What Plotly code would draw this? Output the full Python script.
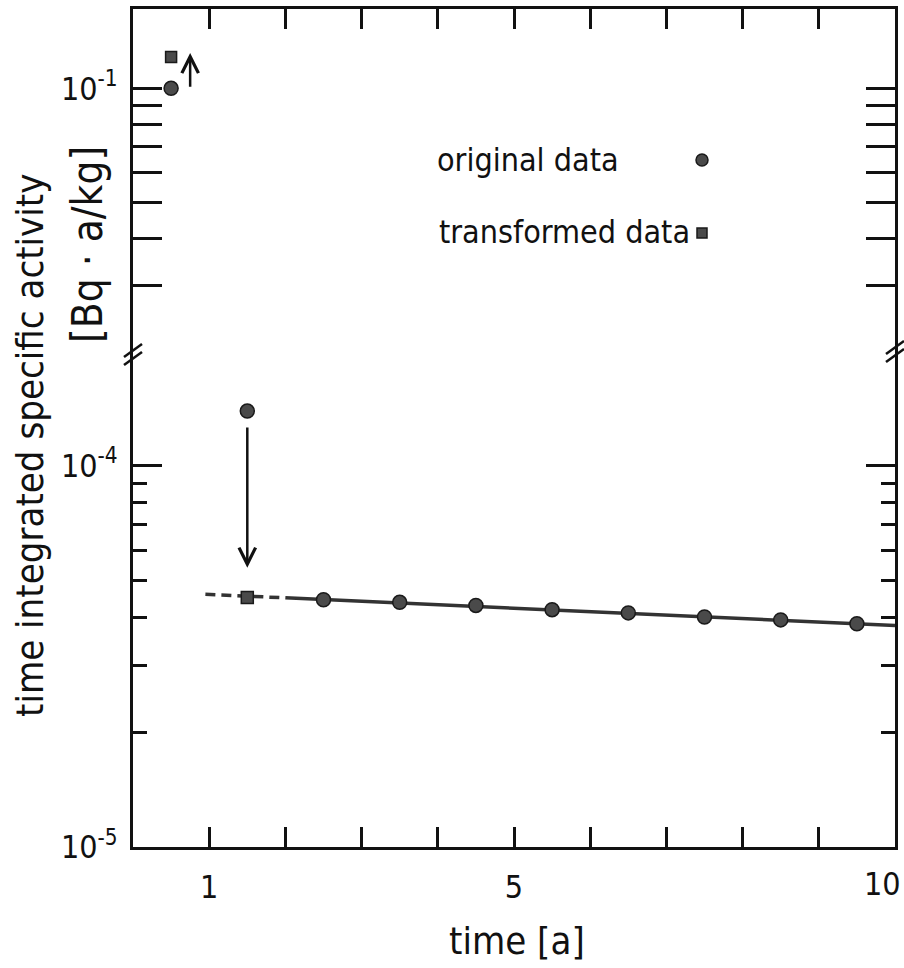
import math
import plotly.graph_objects as go

# ---------------- data ----------------
orig_x = [0.5, 1.5, 2.5, 3.5, 4.5, 5.5, 6.5, 7.5, 8.5, 9.5]
orig_y = [1.0e-1, 1.39e-4, 4.45e-5, 4.38e-5, 4.30e-5, 4.19e-5, 4.11e-5, 4.01e-5, 3.94e-5, 3.85e-5]
trans_x = [0.5, 1.5]
trans_y = [1.21e-1, 4.51e-5]
fit_dash_x = [0.95, 2.0]
fit_dash_y = [4.60e-5, 4.50e-5]
fit_solid_x = [2.0, 10.0]
fit_solid_y = [4.50e-5, 3.81e-5]
arrow_x = [0.75, 1.5]
arrow_from = [1.0e-1, 1.27e-4]
arrow_to = [1.24e-1, 5.4e-5]

x_major = [1, 5]
x_major_text = ["1", "5"]
x_end_label = "10"
x_minor = [2, 3, 4, 6, 7, 8, 9]
low_major = [1e-5, 1e-4]
low_major_text = ["10<sup>-5</sup>", "10<sup>-4</sup>"]
low_minor = [2e-5, 3e-5, 4e-5, 5e-5, 6e-5, 7e-5, 8e-5, 9e-5]
up_major = [1e-1]
up_major_text = ["10<sup>-1</sup>"]
up_minor = [0.03, 0.04, 0.05, 0.06, 0.07, 0.08, 0.09]
break_value = 0.01  # values above belong to the upper panel

# ---------------- layout geometry ----------------
W, H = 904, 968
L, R, T, B = 133, 895, 9, 847
PW, PH = R - L, B - T
BREAK_PX = 355
split = (B - BREAK_PX) / PH

def px(xp):
    return (xp - L) / PW

def py(yp):
    return (B - yp) / PH

FONT = "Liberation Sans Narrow, DejaVu Sans Condensed, Arial Narrow, sans-serif"
INK = "#111111"
MARK = "#4a4a4a"

fig = go.Figure()

lo_ox = [x for x, y in zip(orig_x, orig_y) if y < break_value]
lo_oy = [y for y in orig_y if y < break_value]
up_ox = [x for x, y in zip(orig_x, orig_y) if y >= break_value]
up_oy = [y for y in orig_y if y >= break_value]
lo_tx = [x for x, y in zip(trans_x, trans_y) if y < break_value]
lo_ty = [y for y in trans_y if y < break_value]
up_tx = [x for x, y in zip(trans_x, trans_y) if y >= break_value]
up_ty = [y for y in trans_y if y >= break_value]

fig.add_trace(go.Scatter(x=fit_dash_x, y=fit_dash_y, mode="lines",
                         line=dict(color="#333333", width=3.5, dash="10px,6px"),
                         xaxis="x", yaxis="y", showlegend=False))
fig.add_trace(go.Scatter(x=fit_solid_x, y=fit_solid_y, mode="lines",
                         line=dict(color="#333333", width=3.5),
                         xaxis="x", yaxis="y", showlegend=False))

circ = dict(symbol="circle", size=14, color=MARK, line=dict(color="#1a1a1a", width=1.5))
sq = dict(symbol="square", size=12, color=MARK, line=dict(color="#1a1a1a", width=1.5))

fig.add_trace(go.Scatter(x=lo_ox, y=lo_oy, mode="markers", marker=circ,
                         xaxis="x", yaxis="y", showlegend=False))
fig.add_trace(go.Scatter(x=lo_tx, y=lo_ty, mode="markers", marker=sq,
                         xaxis="x", yaxis="y", showlegend=False))
fig.add_trace(go.Scatter(x=up_ox, y=up_oy, mode="markers", marker=circ,
                         xaxis="x", yaxis="y2", showlegend=False))
fig.add_trace(go.Scatter(x=up_tx, y=up_ty, mode="markers", marker=dict(sq, size=11),
                         xaxis="x", yaxis="y2", showlegend=False))
# dummy trace so the top x axis is drawn
fig.add_trace(go.Scatter(x=[None], y=[None], xaxis="x2", yaxis="y2",
                         showlegend=False, hoverinfo="skip"))

axis_common = dict(showgrid=False, zeroline=False, showline=True, linecolor=INK,
                   linewidth=3, ticks="inside", tickcolor=INK, automargin=False,
                   tickfont=dict(family=FONT, size=32, color=INK))

fig.update_layout(
    width=W, height=H,
    margin=dict(l=L, r=W - R, t=T, b=H - B),
    paper_bgcolor="white", plot_bgcolor="rgba(0,0,0,0)",
    xaxis=dict(axis_common, domain=[0, 1], range=[0, 10], anchor="y",
               tickvals=x_major, ticktext=x_major_text, ticklen=20, tickwidth=2.5,
               ticklabelstandoff=10,
               minor=dict(tickvals=x_minor, ticks="inside", ticklen=20,
                          tickwidth=2.5, tickcolor=INK)),
    xaxis2=dict(axis_common, overlaying="x", anchor="y2", side="top", range=[0, 10],
                tickvals=x_major + x_minor, ticklen=20, tickwidth=2.5,
                showticklabels=False),
    yaxis=dict(axis_common, domain=[0, split], type="log", anchor="x",
               range=[-5, math.log10(1.95e-4)], mirror="allticks",
               tickvals=low_major, ticktext=low_major_text, ticklen=29, tickwidth=2.5,
               ticklabelstandoff=6,
               minor=dict(tickvals=low_minor, ticks="inside", ticklen=14,
                          tickwidth=2.5, tickcolor=INK)),
    yaxis2=dict(axis_common, domain=[split, 1], type="log", anchor="x",
                range=[math.log10(0.01967), math.log10(0.1622)], mirror="allticks",
                tickvals=up_major, ticktext=up_major_text, ticklen=29, tickwidth=2.5,
                ticklabelstandoff=6,
                minor=dict(tickvals=up_minor, ticks="inside", ticklen=14,
                           tickwidth=2.5, tickcolor=INK)),
)

# arrows
for ax_, a0, a1 in zip(arrow_x, arrow_from, arrow_to):
    yref = "y2" if a0 >= break_value else "y"
    fig.add_annotation(x=ax_, y=math.log10(a1), ax=ax_, ay=math.log10(a0),
                       xref="x", yref=yref, axref="x", ayref=yref,
                       text="", showarrow=True, arrowhead=5, arrowsize=1.3,
                       arrowwidth=2.5, arrowcolor=INK, standoff=0, startstandoff=0)

def label(text, xp, yp, size, angle=0, xanchor="center"):
    fig.add_annotation(text=text, textangle=angle, x=px(xp), y=py(yp),
                       xref="paper", yref="paper", xanchor=xanchor, yanchor="middle",
                       showarrow=False, font=dict(family=FONT, size=size, color=INK))

# end tick label of the x axis (kept inside the page like the reference)
label(x_end_label, 882, 884, 32)

# axis titles
label("time integrated specific activity", 30, 446, 38, -90)
label("[Bq · a/kg]", 88, 245, 42, -90)
label("time [a]", 517, 941, 38)

# legend
label("original data", 435, 160, 32, xanchor="left")
label("transformed data", 437, 232, 32, xanchor="left")
r = 6
fig.add_shape(type="circle", xref="paper", yref="paper",
              x0=px(702 - r), x1=px(702 + r), y0=py(160 + r), y1=py(160 - r),
              fillcolor=MARK, line=dict(color="#1a1a1a", width=1.5))
s = 5
fig.add_shape(type="rect", xref="paper", yref="paper",
              x0=px(702 - s), x1=px(702 + s), y0=py(233 + s), y1=py(233 - s),
              fillcolor=MARK, line=dict(color="#1a1a1a", width=1.5))

# axis break marks
for xc, yc in [(L, BREAK_PX), (R, BREAK_PX - 3)]:
    for off in (-4, 4):
        fig.add_shape(type="line", xref="paper", yref="paper",
                      x0=px(xc - 9), y0=py(yc + off + 6),
                      x1=px(xc + 9), y1=py(yc + off - 7),
                      line=dict(color=INK, width=2.5))

fig.write_html("out.html")
